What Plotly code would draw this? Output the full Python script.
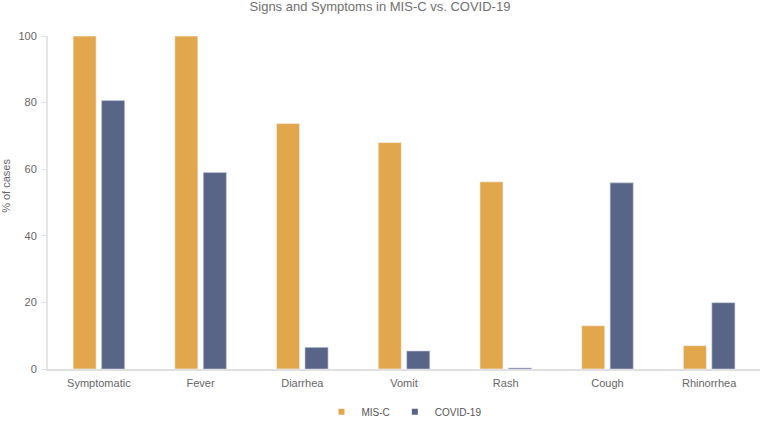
import plotly.graph_objects as go

categories = ["Symptomatic", "Fever", "Diarrhea", "Vomit", "Rash", "Cough", "Rhinorrhea"]
mis_c = [100, 100, 73.7, 68.0, 56.2, 13.0, 7.0]
covid = [80.6, 59.0, 6.5, 5.4, 0.3, 55.9, 19.9]
y_ticks = [0, 20, 40, 60, 80, 100]

FONT = "Liberation Sans, Arial, sans-serif"
GREY = "#666666"
ORANGE = "#E2A74C"
BLUE = "#596587"

fig = go.Figure()
fig.add_trace(go.Bar(name="MIS-C", x=categories, y=mis_c, showlegend=False,
                     marker=dict(color=ORANGE, line=dict(color="#f4f4f8", width=0.6))))
fig.add_trace(go.Bar(name="COVID-19", x=categories, y=covid, showlegend=False,
                     marker=dict(color=BLUE, line=dict(color="#c8cbe0", width=0.6))))
# legend entries with small square symbols
fig.add_trace(go.Scatter(name="MIS-C", x=[None], y=[None], mode="markers",
                         marker=dict(symbol="square", size=6, color=ORANGE)))
fig.add_trace(go.Scatter(name="COVID-19", x=[None], y=[None], mode="markers",
                         marker=dict(symbol="square", size=6, color=BLUE)))

fig.update_layout(
    width=760, height=426,
    margin=dict(l=48, r=0, t=36, b=57, autoexpand=False),
    paper_bgcolor="white", plot_bgcolor="white",
    barmode="group", bargap=0.44, bargroupgap=0.19,
    font=dict(family=FONT, color=GREY, size=11),
    title=dict(text="Signs and Symptoms in MIS-C vs. COVID-19", x=0.5, xanchor="center",
               yref="container", y=1, yanchor="top", pad=dict(t=2, b=0),
               font=dict(size=13, color="#707070", family=FONT)),
    legend=dict(orientation="h", x=0.5, xanchor="center", y=-0.085, yanchor="top",
                font=dict(size=10, color="#555555"), itemwidth=30, tracegroupgap=0),
    showlegend=True,
    annotations=[dict(text="% of cases", textangle=-90, xref="paper", yref="paper",
                      x=-42 / 712, y=0.55, xanchor="center", yanchor="middle",
                      showarrow=False, font=dict(size=11, color=GREY, family=FONT))],
)
fig.update_xaxes(showgrid=False, showline=True, linecolor="#e0e0e0", linewidth=2,
                 ticks="", ticklabelstandoff=3, tickfont=dict(size=11, color=GREY))
fig.update_yaxes(range=[0, 100], tickvals=y_ticks, showgrid=False, zeroline=False,
                 showline=True, linecolor="#e6e6e6", linewidth=2,
                 ticks="outside", ticklen=5, tickcolor="#e0e0e0", ticklabelstandoff=2,
                 tickfont=dict(size=11, color=GREY))

fig.write_html("out.html", post_script="document.body.style.margin='0';",
               config={"displayModeBar": False})
